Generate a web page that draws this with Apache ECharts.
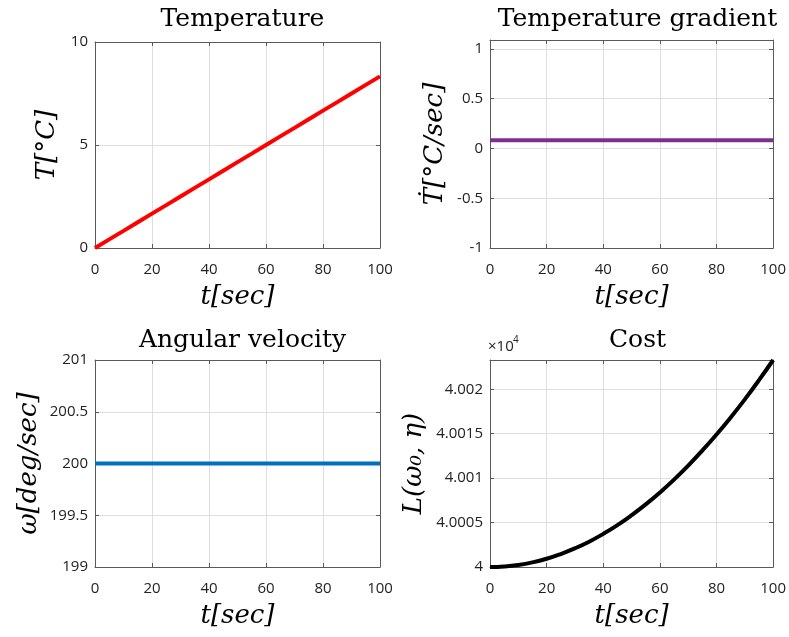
<!DOCTYPE html>
<html>
<head>
<meta charset="utf-8">
<script src="https://cdn.jsdelivr.net/npm/echarts@6/dist/echarts.min.js"></script>
<style>
  html, body { margin: 0; padding: 0; background: #fff; }
  #chart { width: 789px; height: 637px; }
</style>
</head>
<body>
<div id="chart"></div>
<script>
// Simulation time samples (seconds)
const time = [0, 5, 10, 15, 20, 25, 30, 35, 40, 45, 50, 55, 60, 65, 70, 75, 80, 85, 90, 95, 100];

// Temperature T [°C]
const temperature = [0, 0.417, 0.833, 1.25, 1.667, 2.083, 2.5, 2.917, 3.333, 3.75, 4.167,
                     4.583, 5, 5.417, 5.833, 6.25, 6.667, 7.083, 7.5, 7.917, 8.333];

// Temperature gradient dT/dt [°C/sec]
const gradient = [0.0833, 0.0833, 0.0833, 0.0833, 0.0833, 0.0833, 0.0833, 0.0833, 0.0833, 0.0833, 0.0833,
                  0.0833, 0.0833, 0.0833, 0.0833, 0.0833, 0.0833, 0.0833, 0.0833, 0.0833, 0.0833];

// Angular velocity ω [deg/sec]
const omega = [200, 200, 200, 200, 200, 200, 200, 200, 200, 200, 200,
               200, 200, 200, 200, 200, 200, 200, 200, 200, 200];

// Cost L(ω0, η)
const cost = [40000, 40000.06, 40000.23, 40000.52, 40000.93, 40001.46, 40002.10, 40002.85, 40003.73, 40004.72, 40005.83,
              40007.05, 40008.39, 40009.84, 40011.42, 40013.11, 40014.91, 40016.83, 40018.87, 40021.03, 40023.30];

const titles = ['Temperature', 'Temperature gradient', 'Angular velocity', 'Cost'];
const yNames = ['T[°C]', 'Ṫ[°C/sec]', 'ω[deg/sec]', 'L(ω₀, η)'];
const xName = 't[sec]';

const chart = echarts.init(document.getElementById('chart'), null, { renderer: 'canvas' });

const AXIS_COLOR = '#5a5a5a';
const GRID_COLOR = '#dedede';
const TICK_FONT = { fontFamily: 'Open Sans', fontSize: 15, color: '#222' };
const NAME_FONT = { fontFamily: 'DejaVu Serif', fontStyle: 'italic', fontSize: 26, color: '#000' };

const panels = [
  { grid: { left: 95, top: 42, width: 285, height: 206 },
    y: { min: 0, max: 10, interval: 5 }, data: temperature, color: '#ff0000', nameGap: 35 },
  { grid: { left: 490, top: 40, width: 285, height: 208 },
    y: { min: -1, max: 1.09, interval: 0.5 }, data: gradient, color: '#7e2f8e', nameGap: 42 },
  { grid: { left: 95, top: 360, width: 285, height: 207 },
    y: { min: 199, max: 201, interval: 0.5 }, data: omega, color: '#0072bd', nameGap: 53 },
  { grid: { left: 490, top: 360, width: 285, height: 207 },
    y: { min: 40000, max: 40023.3, interval: 5 }, data: cost, color: '#000000', nameGap: 63,
    fmt: v => String(parseFloat((v / 1e4).toFixed(6))) }
];

const grids = [], xAxes = [], yAxes = [], series = [], titleList = [];

panels.forEach((p, i) => {
  grids.push(Object.assign({ containLabel: false }, p.grid));
  const line = { show: true, onZero: false, lineStyle: { color: AXIS_COLOR, width: 1 } };
  const tick = { show: true, inside: true, length: 4, lineStyle: { color: AXIS_COLOR, width: 1 } };
  const split = { show: true, lineStyle: { color: GRID_COLOR, width: 1 } };

  // bottom x axis with labels
  xAxes.push({
    type: 'value', gridIndex: i, position: 'bottom', min: 0, max: 100, interval: 20,
    axisLine: line, axisTick: tick, splitLine: split,
    axisLabel: Object.assign({ margin: 14 }, TICK_FONT),
    name: xName, nameLocation: 'middle', nameGap: 36, nameTextStyle: NAME_FONT
  });
  // top x axis: box edge + inner ticks
  xAxes.push({
    type: 'value', gridIndex: i, position: 'top', min: 0, max: 100, interval: 20,
    axisLine: line, axisTick: tick, splitLine: { show: false }, axisLabel: { show: false }
  });
  // left y axis with labels
  yAxes.push({
    type: 'value', gridIndex: i, position: 'left', min: p.y.min, max: p.y.max, interval: p.y.interval,
    axisLine: line, axisTick: tick, splitLine: split,
    axisLabel: Object.assign({ margin: 7, showMaxLabel: p.y.max % p.y.interval === 0,
                               formatter: p.fmt || (v => String(v)) }, TICK_FONT),
    name: yNames[i], nameLocation: 'middle', nameRotate: 90, nameGap: p.nameGap, nameTextStyle: NAME_FONT
  });
  // right y axis: box edge + inner ticks
  yAxes.push({
    type: 'value', gridIndex: i, position: 'right', min: p.y.min, max: p.y.max, interval: p.y.interval,
    axisLine: line, axisTick: tick, splitLine: { show: false }, axisLabel: { show: false }
  });

  series.push({
    type: 'line', xAxisIndex: 2 * i, yAxisIndex: 2 * i,
    data: time.map((t, k) => [t, p.data[k]]),
    showSymbol: false, clip: false, smooth: i === 3,
    lineStyle: { color: p.color, width: 4 }, z: 5
  });

  titleList.push({
    text: titles[i], left: p.grid.left + p.grid.width / 2, textAlign: 'center',
    top: i < 2 ? 2 : 323,
    textStyle: { fontFamily: 'DejaVu Serif', fontWeight: 'normal', fontSize: 25, color: '#000' }
  });
});

// exponent marker for the cost axis: "×10" with a raised "4"
titleList.push({
  text: '×10', left: 488, top: 339, padding: 0,
  textStyle: { fontFamily: 'Open Sans', fontWeight: 'normal', fontSize: 15, color: '#222' }
});
titleList.push({
  text: '4', left: 513, top: 335, padding: 0,
  textStyle: { fontFamily: 'Open Sans', fontWeight: 'normal', fontSize: 10, color: '#222' }
});

chart.setOption({
  animation: false,
  backgroundColor: '#ffffff',
  title: titleList,
  grid: grids,
  xAxis: xAxes,
  yAxis: yAxes,
  series: series
});
</script>
</body>
</html>
